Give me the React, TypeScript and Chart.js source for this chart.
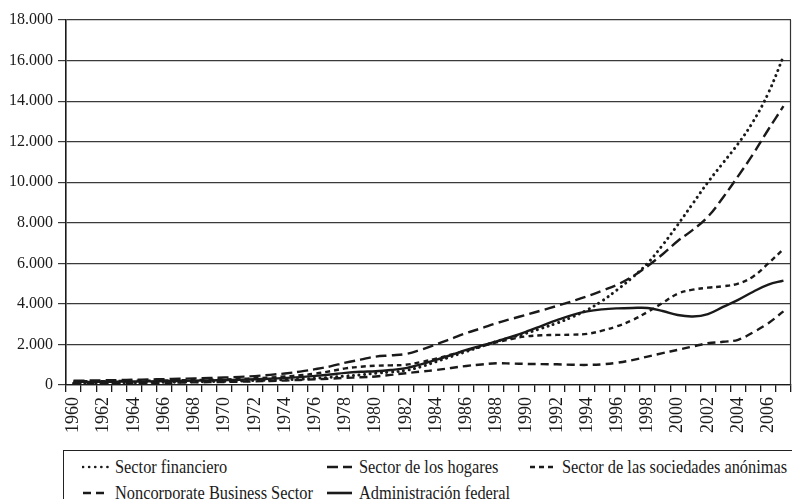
import React, { useEffect, useRef } from "react";
import { Chart, registerables } from "chart.js";

Chart.register(...registerables);

const years: string[] = [
  "1960","1961","1962","1963","1964","1965","1966","1967","1968","1969",
  "1970","1971","1972","1973","1974","1975","1976","1977","1978","1979",
  "1980","1981","1982","1983","1984","1985","1986","1987","1988","1989",
  "1990","1991","1992","1993","1994","1995","1996","1997","1998","1999",
  "2000","2001","2002","2003","2004","2005","2006","2007",
];

const financiero: number[] = [
  90, 95, 100, 110, 115, 125, 135, 145, 160, 170,
  180, 200, 220, 240, 260, 290, 330, 380, 440, 500,
  580, 640, 720, 900, 1150, 1400, 1650, 1900, 2150, 2350,
  2560, 2800, 3050, 3350, 3700, 4150, 4700, 5300, 6000, 6900,
  7900, 8950, 10000, 10950, 11900, 13000, 14400, 16200,
];

const hogares: number[] = [
  210, 220, 230, 245, 260, 275, 290, 305, 325, 345,
  370, 400, 440, 500, 570, 660, 780, 920, 1100, 1250,
  1400, 1460, 1530, 1740, 2000, 2280, 2560, 2800, 3050, 3260,
  3470, 3680, 3900, 4130, 4370, 4650, 4950, 5350, 5860, 6450,
  7100, 7650, 8300, 9250, 10300, 11400, 12600, 13750,
];

const sociedades: number[] = [
  180, 185, 190, 200, 210, 215, 225, 235, 250, 260,
  275, 300, 330, 370, 420, 480, 560, 680, 820, 900,
  950, 970, 1000, 1130, 1300, 1500, 1700, 1900, 2100, 2270,
  2400, 2450, 2470, 2480, 2520, 2680, 2900, 3200, 3600, 4050,
  4500, 4700, 4800, 4870, 5000, 5350, 6000, 6700,
];

const noncorporate: number[] = [
  80, 85, 90, 95, 100, 105, 110, 120, 130, 140,
  150, 165, 180, 200, 220, 250, 280, 310, 350, 380,
  420, 500, 580, 660, 740, 840, 940, 1010, 1070, 1060,
  1040, 1030, 1020, 1000, 990, 1020, 1100, 1230, 1400, 1570,
  1730, 1900, 2060, 2130, 2230, 2600, 3050, 3630,
];

const federal: number[] = [
  150, 155, 160, 165, 170, 180, 190, 200, 215, 225,
  240, 260, 280, 310, 350, 390, 450, 520, 600, 650,
  680, 740, 830, 1020, 1240, 1480, 1730, 1940, 2150, 2380,
  2640, 2920, 3200, 3450, 3630, 3730, 3780, 3800, 3800, 3650,
  3450, 3380, 3500, 3850, 4200, 4600, 4950, 5150,
];

const seriesNames: string[] = [
  "Sector financiero",
  "Sector de los hogares",
  "Sector de las sociedades anónimas",
  "Noncorporate Business Sector",
  "Administración federal",
];

const yTicks: number[] = [0, 2000, 4000, 6000, 8000, 10000, 12000, 14000, 16000, 18000];

const INK = "#1a1a1a";

const rightBorder = {
  id: "rightBorder",
  afterDraw(chart: any) {
    const { ctx, chartArea } = chart;
    ctx.save();
    ctx.strokeStyle = "#333";
    ctx.lineWidth = 1.2;
    ctx.beginPath();
    ctx.moveTo(chartArea.right - 0.5, chartArea.top);
    ctx.lineTo(chartArea.right - 0.5, chartArea.bottom);
    ctx.stroke();
    ctx.restore();
  },
};

function fmt(v: number): string {
  return String(v).replace(/\B(?=(\d{3})+(?!\d))/g, ".");
}

function LegendSample({ dash, width }: { dash: string; width: number }) {
  return (
    <svg width={width} height={6} style={{ display: "inline-block", verticalAlign: "middle", marginRight: 6 }}>
      <line
        x1={1}
        y1={3}
        x2={width - 1}
        y2={3}
        stroke={INK}
        strokeWidth={2.6}
        strokeDasharray={dash === "dot" ? "0.1 6" : dash === "solid" ? undefined : dash}
        strokeLinecap={dash === "dot" ? "round" : "butt"}
      />
    </svg>
  );
}

function LegendItem({ left, top, dash, label }: { left: number; top: number; dash: string; label: string }) {
  return (
    <div style={{ position: "absolute", left, top, whiteSpace: "nowrap", display: "flex", alignItems: "center" }}>
      <LegendSample dash={dash} width={27} />
      <span
        style={{
          display: "inline-block",
          fontFamily: "'Liberation Serif', serif",
          fontSize: 19,
          color: INK,
          transform: "scaleX(0.86)",
          transformOrigin: "left center",
          lineHeight: "20px",
        }}
      >
        {label}
      </span>
    </div>
  );
}

export default function App() {
  const canvasRef = useRef<HTMLCanvasElement | null>(null);

  useEffect(() => {
    if (!canvasRef.current) return;
    const mk = (label: string, data: number[], dash: number[], cap: CanvasLineCap = "butt", w = 2.4) => ({
      label,
      data,
      borderColor: INK,
      backgroundColor: INK,
      borderWidth: w,
      borderDash: dash,
      borderCapStyle: cap,
      pointRadius: 0,
      tension: 0.4,
      fill: false,
    });
    const chart = new Chart(canvasRef.current, {
      type: "line",
      data: {
        labels: years,
        datasets: [
          mk(seriesNames[0], financiero, [0.1, 5.5], "round", 3),
          mk(seriesNames[1], hogares, [11, 5]),
          mk(seriesNames[2], sociedades, [5, 4]),
          mk(seriesNames[3], noncorporate, [8, 5]),
          mk(seriesNames[4], federal, []),
        ],
      },
      options: {
        animation: false,
        responsive: false,
        layout: { padding: { top: 20, right: 1, left: 0, bottom: 0 } },
        plugins: { legend: { display: false }, tooltip: { enabled: false } },
        scales: {
          x: {
            type: "category",
            offset: true,
            afterFit: (s: any) => {
              s.height = 60;
              s.paddingLeft = 0;
              s.paddingRight = 0;
            },
            grid: {
              offset: true,
              drawOnChartArea: false,
              drawTicks: true,
              tickLength: 7,
              color: INK,
              lineWidth: 1.3,
            },
            border: { display: true, color: INK, width: 1.3 },
            ticks: {
              autoSkip: false,
              maxRotation: 90,
              minRotation: 90,
              padding: 5,
              color: INK,
              font: { family: "'Liberation Serif', serif", size: 18 },
              callback: (_v: any, i: number) => (i % 2 === 0 ? years[i] : ""),
            },
          },
          y: {
            min: 0,
            max: 18000,
            afterFit: (s: any) => {
              s.width = 66;
              s.paddingTop = 0;
              s.paddingBottom = 0;
            },
            afterBuildTicks: (s: any) => {
              s.ticks = yTicks.map((v) => ({ value: v }));
            },
            grid: {
              drawOnChartArea: true,
              drawTicks: true,
              tickLength: 8,
              color: "#3a3a3a",
              lineWidth: 1.2,
            },
            border: { display: true, color: INK, width: 1.6 },
            ticks: {
              padding: 5,
              color: INK,
              font: { family: "'Liberation Serif', serif", size: 16 },
              callback: (v: any) => fmt(Number(v)),
            },
          },
        },
      },
      plugins: [rightBorder],
    });
    return () => chart.destroy();
  }, []);

  return (
    <div style={{ position: "absolute", left: 0, top: 0, width: 792, height: 499, overflow: "hidden", background: "#fff" }}>
      <canvas ref={canvasRef} width={792} height={445} style={{ display: "block", position: "absolute", left: 0, top: 0 }} />
      <div
        style={{
          position: "absolute",
          left: 63,
          top: 450,
          width: 760,
          height: 80,
          borderTop: "1.5px solid #222",
          borderLeft: "1.5px solid #222",
        }}
      />
      <LegendItem left={82} top={457} dash="dot" label={seriesNames[0]} />
      <LegendItem left={326} top={457} dash="11 5" label={seriesNames[1]} />
      <LegendItem left={529} top={457} dash="5 4" label={seriesNames[2]} />
      <LegendItem left={82} top={483} dash="8 5" label={seriesNames[3]} />
      <LegendItem left={326} top={483} dash="solid" label={seriesNames[4]} />
    </div>
  );
}
